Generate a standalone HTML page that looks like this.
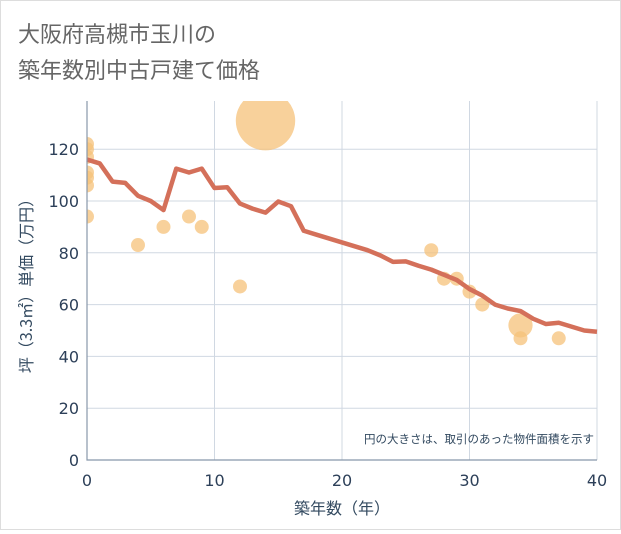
<!DOCTYPE html>
<html><head><meta charset="utf-8"><style>
body{margin:0;background:#fff;font-family:"DejaVu Sans","Noto Sans CJK JP",sans-serif;}
</style></head><body>
<svg width="621" height="530">
<defs><clipPath id="pc"><rect x="87" y="101" width="511" height="360"/></clipPath></defs>
<rect x="0.5" y="0.5" width="620" height="529" fill="#fff" stroke="#ddd"/>
<text x="18" y="42" font-size="22" fill="#666" font-family="Noto Sans CJK JP, sans-serif">大阪府高槻市玉川の</text>
<text x="18" y="78" font-size="22" fill="#666" font-family="Noto Sans CJK JP, sans-serif">築年数別中古戸建て価格</text>
<g id="grid"></g>
<g id="scatter" clip-path="url(#pc)"></g>
<g id="line"></g>
<g id="axes"></g>
<text x="594" y="443" font-size="11.5" fill="#334a60" text-anchor="end" font-family="Noto Sans CJK JP, sans-serif">円の大きさは、取引のあった物件面積を示す</text>
<text x="342" y="514" font-size="16" fill="#334a60" text-anchor="middle" font-family="Noto Sans CJK JP, sans-serif">築年数（年）</text>
<text transform="translate(32,282) rotate(-90)" font-size="16" fill="#334a60" text-anchor="middle" font-family="Noto Sans CJK JP, sans-serif">坪（3.3㎡）単価（万円）</text>
</svg>
<script>
const xTicks=[0,10,20,30,40];
const yTicks=[0,20,40,60,80,100,120];
const lineYears=[0,1,2,3,4,5,6,7,8,9,10,11,12,13,14,15,16,17,18,19,20,21,22,23,24,25,26,27,28,29,30,31,32,33,34,35,36,37,38,39,40];
const lineValues=[116,114.5,107.5,107,102,100,96.5,112.5,111,112.5,105,105.3,99,97,95.5,99.8,98,88.5,87,85.5,84,82.5,81,79,76.5,76.7,75,73.5,71.5,69.5,66,63.5,60,58.5,57.5,54.5,52.5,53,51.5,50,49.5];
const ptYears=[0,0,0,0,0,0,0,4,6,8,9,12,14,27,28,29,30,31,34,34,37];
const ptValues=[122,120,117,111,109,106,94,83,90,94,90,67,131,81,70,70,65,60,52,47,47];
const ptSizes=[1,1,1,1,1,1,1,1,1,1,1,1,18,1,1,1,1,1,3,1,1];
const L=87,R=597,T=101,B=460;
const X=v=>L+(v-0)/40*(R-L);
const Y=v=>B-v/120*(B-149.2);
const ns="http://www.w3.org/2000/svg";
function mk(t,a,p){const e=document.createElementNS(ns,t);for(const k in a)e.setAttribute(k,a[k]);p.appendChild(e);return e;}
const g=document.getElementById('grid');
xTicks.forEach(v=>{const e=mk('line',{x1:X(v),x2:X(v),y1:T,y2:B,stroke:'#d0d8e2','stroke-width':1},g);
});
yTicks.forEach(v=>{const e=mk('line',{x1:L,x2:R,y1:Y(v),y2:Y(v),stroke:'#d0d8e2','stroke-width':1},g);
});
const ax=document.getElementById('axes');
const a1=mk('path',{d:`M${L},${T}V${B}H${R}`,fill:'none',stroke:'#8898aa','stroke-width':1.2},ax);

xTicks.forEach(v=>{const t=mk('text',{x:X(v),y:B+26,'font-size':16,fill:'#2d4059','text-anchor':'middle'},ax);t.textContent=v;
});
yTicks.forEach(v=>{const t=mk('text',{x:L-8,y:Y(v)+6,'font-size':16,fill:'#2d4059','text-anchor':'end'},ax);t.textContent=v;
});
const s=document.getElementById('scatter');
ptYears.forEach((yr,i)=>{const c=mk('circle',{cx:X(yr),cy:Y(ptValues[i]),r:7*Math.sqrt(ptSizes[i]),fill:'#f5c27a','fill-opacity':0.75},s);
});
const pl=mk('polyline',{points:lineYears.map((yr,i)=>X(yr)+','+Y(lineValues[i])).join(' '),fill:'none',stroke:'#d4705a','stroke-width':4.5,'stroke-linejoin':'round'},document.getElementById('line'));

</script>
</body></html>
